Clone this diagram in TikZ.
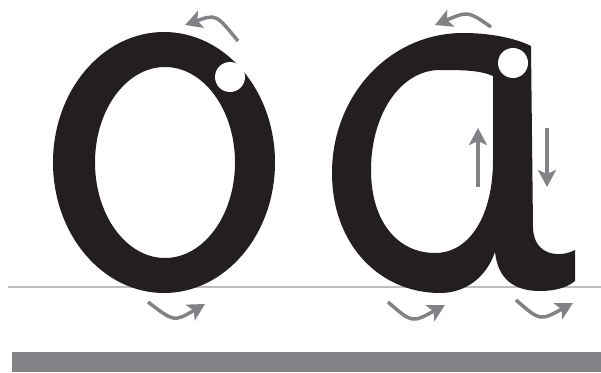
\documentclass[tikz,border=0pt]{standalone}
\usepackage{tikz}
\usetikzlibrary{arrows.meta}
\definecolor{inkcolor}{HTML}{231F20}
\definecolor{guidecolor}{HTML}{808285}
\definecolor{baselinecolor}{HTML}{BCBEC0}
\tikzset{letter/.style={fill=inkcolor,even odd rule},start dot/.style={circle,fill=white,minimum size=30pt,inner sep=0pt},stroke arrow/.style={-{Stealth[length=17pt,width=18pt,inset=4pt]},draw=guidecolor,line width=3.5pt},base line/.style={draw=baselinecolor,line width=2.5pt},ground bar/.style={fill=guidecolor}}
\begin{document}
\begin{tikzpicture}[x=1pt,y=-1pt]
 \useasboundingbox (0,0) rectangle (601,372);
 \coordinate (base west) at (8,287);
 \coordinate (base east) at (601,287);
 \draw[base line] (base west) -- (base east);
 \fill[ground bar] (12,352) rectangle (601,372);
 % letter o
 \fill[letter] (164,162.5) ellipse [x radius=111,y radius=130.5] (165,162.5) ellipse [x radius=70,y radius=95.5];
 % letter a
 \fill[letter] (531,46) .. controls (515,38) and (490,33) .. (463,33)
   .. controls (390,33) and (332,95) .. (332,173)
   .. controls (332,245) and (380,293) .. (440,293)
   .. controls (465,293) and (486,278) .. (495,252)
   .. controls (498,280) and (515,291) .. (540,291)
   .. controls (556,291) and (568,287) .. (575,281) -- (575,250)
   .. controls (560,258) and (534,256) .. (533,228) -- cycle
   (493,76) .. controls (480,70) and (460,70) .. (440,70)
   .. controls (400,70) and (371,115) .. (371,170)
   .. controls (371,222) and (398,253) .. (435,253)
   .. controls (470,253) and (493,215) .. (493,160) -- cycle;
 \node[start dot] (o start) at (230,77) {};
 \node[start dot] (a start) at (513,63) {};
 % direction arrows
 \foreach \nm/\sx/\sy/\cx/\cy/\ex/\ey in {o top/238/41/216/14/185/25,o bottom/148/302/174/322/205/304,a top/491/27/468/11/435/25,a bowl/388/302/412/323/445/305,a tail/516/300/540/321/573/303} {
   \coordinate (\nm\space from) at (\sx,\sy);
   \coordinate (\nm\space to) at (\ex,\ey);
   \draw[stroke arrow] (\nm\space from) .. controls (\cx,\cy) .. (\nm\space to);
 }
 \coordinate (a up from) at (478,187);
 \coordinate (a up to) at (478,128);
 \coordinate (a down from) at (547,128);
 \coordinate (a down to) at (547,187);
 \draw[stroke arrow] (a up from) -- (a up to);
 \draw[stroke arrow] (a down from) -- (a down to);
\end{tikzpicture}
\end{document}
